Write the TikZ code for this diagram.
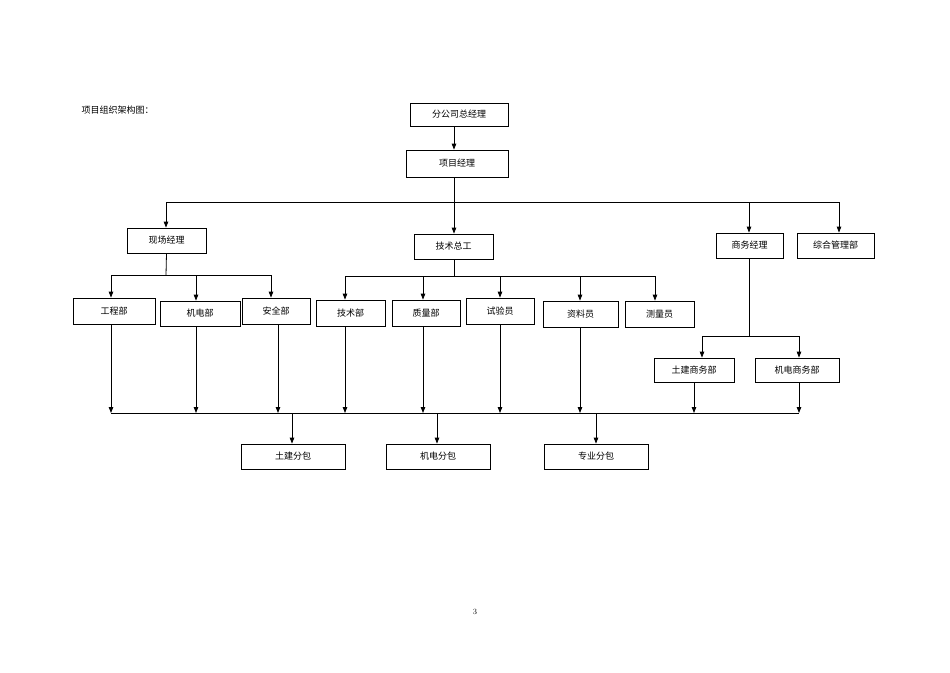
\documentclass[tikz,border=0pt]{standalone}
\usepackage{fontspec}
\newfontfamily\cjk{Noto Sans CJK SC}
\usetikzlibrary{arrows.meta,positioning,calc}
\begin{document}
\begin{tikzpicture}[x=1pt,y=-1pt,
  box/.style={draw,thick,minimum height=25pt,inner sep=0pt,font=\cjk\fontsize{9}{10}\selectfont},
  arr/.style={-{Triangle[length=6pt,width=4.5pt]},thick},
  ln/.style={thick}]
\useasboundingbox (0,0) rectangle (950,672);
\node[anchor=west,font=\cjk\fontsize{9}{10}\selectfont] (title) at (78,110) {项目组织架构图：};
\node[font=\fontsize{8}{9}\selectfont] (page) at (475,612) {3};

% Top levels
\node[box,minimum width=98pt,minimum height=23pt] (gm) at (459,114.5) {分公司总经理};
\node[box,minimum width=102pt,minimum height=27pt] (pm) at (457,163.5) {项目经理};
\draw[arr] (gm.south -| 454,0) -- (pm.north -| 454,0);

% Second level
\node[box,minimum width=79pt] (xc) at (166.5,240.5) {现场经理};
\node[box,minimum width=79pt] (js) at (453.5,246.5) {技术总工};
\node[box,minimum width=67pt] (sw) at (749.5,245.5) {商务经理};
\node[box,minimum width=77pt] (zh) at (835.5,245.5) {综合管理部};
\coordinate (b1) at (454,202);
\draw[ln] (pm.south -| b1) -- (b1);
\draw[ln] (166,202) -- (839,202);
\draw[arr] (166,202) -- (xc.north -| 166,0);
\draw[arr] (454,202) -- (js.north -| 454,0);
\draw[arr] (749,202) -- (sw.north -| 749,0);
\draw[arr] (839,202) -- (zh.north -| 839,0);

% Third level
\node[box,minimum width=82pt,minimum height=26pt] (gc) at (114,311) {工程部};
\node[box,minimum width=80pt] (jd) at (200,313.5) {机电部};
\node[box,minimum width=68pt,minimum height=26pt] (aq) at (276,311) {安全部};
\node[box,minimum width=69pt,minimum height=26pt] (jsb) at (350.5,313) {技术部};
\node[box,minimum width=68pt,minimum height=26pt] (zl) at (426,313) {质量部};
\node[box,minimum width=68pt,minimum height=26pt] (sy) at (500,311) {试验员};
\node[box,minimum width=75pt,minimum height=26pt] (zls) at (580.5,314) {资料员};
\node[box,minimum width=69pt,minimum height=26pt] (cl) at (659.5,314) {测量员};
\draw[ln] (xc.south) -- (166,275);
\draw[ln] (111,275) -- (271,275);
\foreach \x/\n in {111/gc,196/jd,271/aq}
  \draw[arr] (\x,275) -- (\n.north -| \x,0);
\draw[ln] (js.south -| 454,0) -- (454,276);
\draw[ln] (345,276) -- (655,276);
\foreach \x/\n in {345/jsb,423/zl,500/sy,580/zls,655/cl}
  \draw[arr] (\x,276) -- (\n.north -| \x,0);

% Commerce branch
\node[box,minimum width=80pt,minimum height=24pt] (tjsw) at (694,370) {土建商务部};
\node[box,minimum width=84pt,minimum height=24pt] (jdsw) at (797,370) {机电商务部};
\draw[ln] (sw.south) -- (749.5,336);
\draw[ln] (702,336) -- (799,336);
\draw[arr] (702,336) -- (tjsw.north -| 702,0);
\draw[arr] (799,336) -- (jdsw.north -| 799,0);

% Collecting line
\draw[ln] (111,413) -- (799,413);
\foreach \x/\n in {111/gc,196/jd,278/aq,345/jsb,423/zl,500/sy,580/zls}
  \draw[arr] (\n.south -| \x,0) -- (\x,413);
\draw[arr] (tjsw.south -| 694,0) -- (694,413);
\draw[arr] (jdsw.south -| 799,0) -- (799,413);

% Subcontractors
\node[box,minimum width=104pt] (tjfb) at (293,456.5) {土建分包};
\node[box,minimum width=104pt] (jdfb) at (438,456.5) {机电分包};
\node[box,minimum width=104pt] (zyfb) at (596,456.5) {专业分包};
\foreach \x/\n in {292/tjfb,437/jdfb,596/zyfb}
  \draw[arr] (\x,413) -- (\n.north -| \x,0);
\end{tikzpicture}
\end{document}
